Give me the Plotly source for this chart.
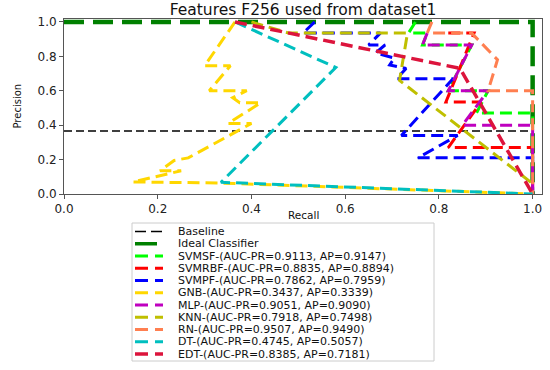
import plotly.graph_objects as go

# ---------------- data ----------------
baseline_recall = [0.0, 1.0]
baseline_precision = [0.366, 0.366]

ideal_recall = [0.0, 1.0, 1.0]
ideal_precision = [1.0, 1.0, 0.0]

svmsf_recall = [0.75, 0.735, 0.775, 0.765, 0.87, 0.82, 0.905, 0.88, 1.0, 1.0]
svmsf_precision = [1.0, 0.935, 0.935, 0.866, 0.866, 0.60, 0.60, 0.47, 0.47, 0.0]

svmrbf_recall = [0.82, 0.875, 0.815, 0.89, 0.82, 1.0, 1.0]
svmrbf_precision = [0.935, 0.935, 0.535, 0.535, 0.27, 0.27, 0.0]

svmpf_recall = [0.535, 0.51, 0.675, 0.65, 0.685, 0.665, 0.705, 0.695, 0.73,
                0.71, 0.83, 0.72, 0.84, 0.755, 1.0, 1.0]
svmpf_precision = [1.0, 0.935, 0.935, 0.866, 0.866, 0.82, 0.79, 0.75, 0.73,
                   0.67, 0.67, 0.34, 0.34, 0.21, 0.21, 0.0]

gnb_recall = [0.365, 0.30, 0.355, 0.31, 0.39, 0.36, 0.375, 0.42, 0.35, 0.40,
              0.265, 0.235, 0.205, 0.25, 0.147, 0.33, 1.0]
gnb_precision = [1.0, 0.745, 0.745, 0.60, 0.60, 0.56, 0.53, 0.53, 0.41, 0.41,
                 0.21, 0.195, 0.135, 0.135, 0.07, 0.064, 0.0]

mlp_recall = [0.775, 0.765, 0.87, 0.82, 0.905, 0.85, 1.0, 1.0]
mlp_precision = [0.935, 0.866, 0.866, 0.60, 0.60, 0.40, 0.40, 0.0]

knn_recall = [0.40, 0.48, 0.733, 0.716, 1.0]
knn_precision = [1.0, 0.935, 0.935, 0.66, 0.06]

rn_recall = [0.785, 0.775, 0.87, 0.925, 0.905, 1.0, 1.0]
rn_precision = [1.0, 0.935, 0.935, 0.78, 0.60, 0.60, 0.0]

dt_recall = [0.365, 0.58, 0.335, 1.0]
dt_precision = [1.0, 0.735, 0.068, 0.0]

edt_recall = [0.365, 0.48, 0.845, 1.0]
edt_precision = [1.0, 0.935, 0.73, 0.0]

legend_labels = [
    "Baseline",
    "Ideal Classifier",
    "SVMSF-(AUC-PR=0.9113, AP=0.9147)",
    "SVMRBF-(AUC-PR=0.8835, AP=0.8894)",
    "SVMPF-(AUC-PR=0.7862, AP=0.7959)",
    "GNB-(AUC-PR=0.3437, AP=0.3339)",
    "MLP-(AUC-PR=0.9051, AP=0.9090)",
    "KNN-(AUC-PR=0.7918, AP=0.7498)",
    "RN-(AUC-PR=0.9507, AP=0.9490)",
    "DT-(AUC-PR=0.4745, AP=0.5057)",
    "EDT-(AUC-PR=0.8385, AP=0.7181)",
]

tick_values = [0.0, 0.2, 0.4, 0.6, 0.8, 1.0]
tick_labels = ["0.0", "0.2", "0.4", "0.6", "0.8", "1.0"]

# ---------------- styles ----------------
FONT = "DejaVu Sans"
series = [
    (baseline_recall, baseline_precision, "black", 1.6, "8px,4px", "11px,5px"),
    (ideal_recall, ideal_precision, "#008000", 4.5, "20px,9px", "22px,9px"),
    (svmsf_recall, svmsf_precision, "#00FF00", 3, "12px,6px", "13px,7px"),
    (svmrbf_recall, svmrbf_precision, "#FF0000", 3, "12px,6px", "13px,7px"),
    (svmpf_recall, svmpf_precision, "#0000FF", 3, "12px,6px", "13px,7px"),
    (gnb_recall, gnb_precision, "#FFD700", 3, "12px,6px", "13px,7px"),
    (mlp_recall, mlp_precision, "#BF00BF", 3, "12px,6px", "13px,7px"),
    (knn_recall, knn_precision, "#BFBF00", 3, "12px,6px", "13px,7px"),
    (rn_recall, rn_precision, "#FF7F50", 3, "12px,6px", "13px,7px"),
    (dt_recall, dt_precision, "#00BFBF", 3, "12px,6px", "13px,7px"),
    (edt_recall, edt_precision, "#DC143C", 3.5, "12px,6px", "13px,7px"),
]

fig = go.Figure()
for (xs, ys, col, w, dash, _), name in zip(series, legend_labels):
    fig.add_trace(go.Scatter(x=xs, y=ys, mode="lines", name=name, showlegend=False,
                             line=dict(color=col, width=w, dash=dash)))

# plot area in pixels
L, R, T, B = 64, 542, 19, 194
W, H = 550, 370


def px_x(p):
    return (p - L) / (R - L)


def px_y(p):
    return (B - p) / (B - T)


shapes = []
annotations = []
# legend box
shapes.append(dict(type="rect", xref="paper", yref="paper",
                   x0=px_x(132), x1=px_x(434), y0=px_y(361), y1=px_y(223),
                   line=dict(color="#cccccc", width=1), fillcolor="white", layer="above"))
row0, step = 231.5, 12.25
for i, ((_, _, col, w, _, ldash), name) in enumerate(zip(series, legend_labels)):
    yy = px_y(row0 + i * step)
    shapes.append(dict(type="line", xref="paper", yref="paper",
                       x0=px_x(135), x1=px_x(163), y0=yy, y1=yy, layer="above",
                       line=dict(color=col, width=min(w, 3.5), dash=ldash)))
    annotations.append(dict(text=name, xref="paper", yref="paper", x=px_x(177), y=yy,
                            xanchor="left", yanchor="middle", showarrow=False,
                            borderpad=0,
                            font=dict(family=FONT, size=11, color="#111")))

# axis titles
annotations.append(dict(text="Recall", xref="paper", yref="paper", x=0.5, y=px_y(215),
                        xanchor="center", yanchor="middle", showarrow=False,
                        font=dict(family=FONT, size=10.5, color="#111")))
annotations.append(dict(text="Precision", xref="paper", yref="paper", x=px_x(17), y=0.5,
                        xanchor="center", yanchor="middle", showarrow=False, textangle=-90,
                        font=dict(family=FONT, size=10, color="#111")))

axis_common = dict(showgrid=False, zeroline=False, showline=True, mirror=True,
                   linecolor="#555", linewidth=1, ticks="outside", ticklen=4,
                   tickcolor="#555", tickvals=tick_values, ticktext=tick_labels,
                   tickfont=dict(family=FONT, size=12, color="#222"))

fig.update_layout(
    width=W, height=H,
    margin=dict(l=L, r=W - R, t=T, b=H - B, autoexpand=False),
    paper_bgcolor="white", plot_bgcolor="white",
    title=dict(text="Features F256 used from dataset1", x=0.5, xref="paper",
               y=1 - 10 / H, yref="container", xanchor="center", yanchor="middle",
               font=dict(family=FONT, size=15.5, color="#111")),
    xaxis=dict(range=[0, 1.02], **axis_common),
    yaxis=dict(range=[0, 1.017], **axis_common),
    shapes=shapes, annotations=annotations,
    showlegend=False,
)

fig.write_html("out.html", config={"displayModeBar": False},
               post_script="document.body.style.margin='0';document.body.style.padding='0';")
